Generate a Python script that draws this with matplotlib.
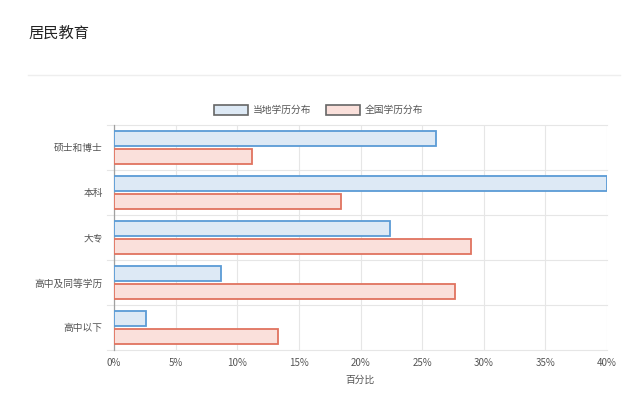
import numpy as np
import matplotlib.pyplot as plt
from matplotlib.patches import Rectangle
from matplotlib.ticker import FuncFormatter, MultipleLocator

plt.rcParams['font.family'] = ['Noto Sans CJK SC', 'DejaVu Sans']

categories = ['硕士和博士', '本科', '大专', '高中及同等学历', '高中以下']
local_share = [26.1, 40.0, 22.4, 8.7, 2.6]
national_share = [11.2, 18.4, 29.0, 27.7, 13.3]
series_names = ['当地学历分布', '全国学历分布']

blue_edge, blue_fill = '#5b9bd5', '#dde9f5'
red_edge, red_fill = '#e0735f', '#fae0db'

fig = plt.figure(figsize=(6.4, 4.09), dpi=100)
ax = fig.add_axes([114 / 640, 1 - 350 / 409, 493 / 640, 225 / 409])

y = np.arange(len(categories))
h = 0.34
ax.barh(y - 0.2, local_share, height=h, color=blue_fill,
        edgecolor=blue_edge, linewidth=1.3, zorder=3)
ax.barh(y + 0.2, national_share, height=h, color=red_fill,
        edgecolor=red_edge, linewidth=1.3, zorder=3)

ax.set_ylim(len(categories) - 0.5, -0.5)
ax.set_xlim(0, 40)
ax.set_yticks(y)
ax.set_yticklabels(categories)
ax.tick_params(axis='y', length=0, pad=8, labelsize=7, labelcolor='#555555')
ax.xaxis.set_major_locator(MultipleLocator(5))
ax.xaxis.set_major_formatter(FuncFormatter(lambda v, p: f'{v:.0f}%'))
ax.tick_params(axis='x', length=0, pad=6, labelsize=7, labelcolor='#555555')
ax.set_xlabel('百分比', fontsize=7, color='#555555', labelpad=5)

# grid lines: vertical at ticks, horizontal between categories
ax.grid(axis='x', color='#e6e6e6', linewidth=0.8, zorder=0)
for b in np.arange(-0.5, len(categories), 1.0):
    ax.plot([-0.6, 40], [b, b], color='#e6e6e6', linewidth=0.8,
            clip_on=False, zorder=0)

for s in ['top', 'right', 'bottom']:
    ax.spines[s].set_visible(False)
ax.spines['left'].set_color('#a0a0a0')
ax.spines['left'].set_linewidth(0.9)

# title and separator
fig.text(28 / 640, 1 - 33 / 409, '居民教育', fontsize=11, color='#222222',
         va='center', ha='left')
fig.add_artist(plt.Line2D([28 / 640, 620 / 640], [1 - 75 / 409, 1 - 75 / 409],
                          color='#eeeeee', linewidth=1))

# legend
legend_y = 1 - 110 / 409
items = [(214, series_names[0], blue_fill), (326, series_names[1], red_fill)]
for x0, label, fill in items:
    fig.add_artist(Rectangle((x0 / 640, legend_y - 5 / 409), 34 / 640, 10 / 409,
                             facecolor=fill, edgecolor='#666666', linewidth=1.2,
                             transform=fig.transFigure))
    fig.text((x0 + 39) / 640, legend_y, label, fontsize=7, color='#555555',
             va='center', ha='left')

fig.savefig('out.png', dpi=100)
